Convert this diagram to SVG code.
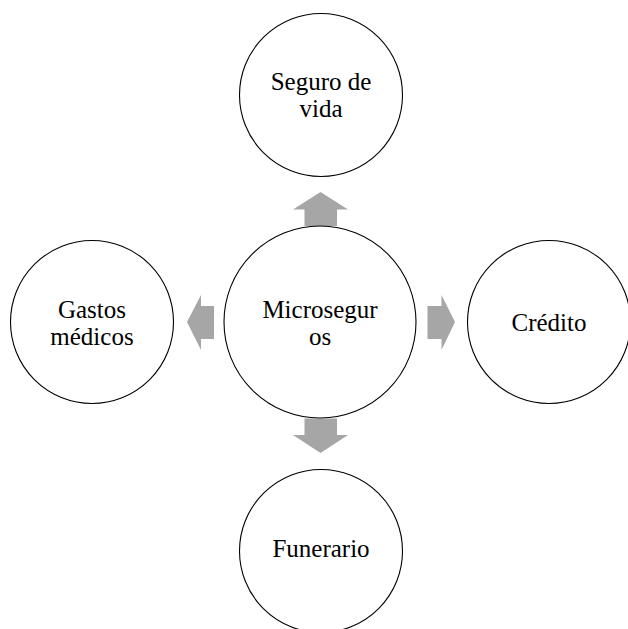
<svg xmlns="http://www.w3.org/2000/svg" width="628" height="629" viewBox="0 0 628 629">
<style>
.c{fill:#fff;stroke:#000;stroke-width:1.1}
.t{font-size:25px;fill:#000;text-anchor:middle}
.a{fill:#a6a6a6}
</style>
<rect width="628" height="629" fill="#fff"/>
<g id="connectors">
<polygon class="a" points="320.5,192 348,209.5 337,209.5 337,226 304.5,226 304.5,209.5 293,209.5"/>
<polygon class="a" points="320.5,453 348,435 337,435 337,418.5 304.5,418.5 304.5,435 293,435"/>
<polygon class="a" points="187,322 201,295 201,306 214,306 214,339 201,339 201,350"/>
<polygon class="a" points="455,322 441.5,295 441.5,306 427.5,306 427.5,339 441.5,339 441.5,350"/>
</g>
<g font-family="Liberation Serif, DejaVu Serif, serif">
<g id="center">
<circle class="c" cx="320" cy="322" r="96"/>
<text class="t" x="320" y="318">Microsegur</text>
<text class="t" x="320" y="345">os</text>
</g>
<g id="top">
<circle class="c" cx="321" cy="95" r="81.5"/>
<text class="t" x="321" y="90">Seguro de</text>
<text class="t" x="321" y="117">vida</text>
</g>
<g id="left">
<circle class="c" cx="92" cy="322" r="81.5"/>
<text class="t" x="92" y="318">Gastos</text>
<text class="t" x="92" y="345">médicos</text>
</g>
<g id="right">
<circle class="c" cx="549" cy="322" r="81.5"/>
<text class="t" x="549" y="331">Crédito</text>
</g>
<g id="bottom">
<circle class="c" cx="321" cy="551" r="81.5"/>
<text class="t" x="321" y="557">Funerario</text>
</g>
</g>
</svg>
